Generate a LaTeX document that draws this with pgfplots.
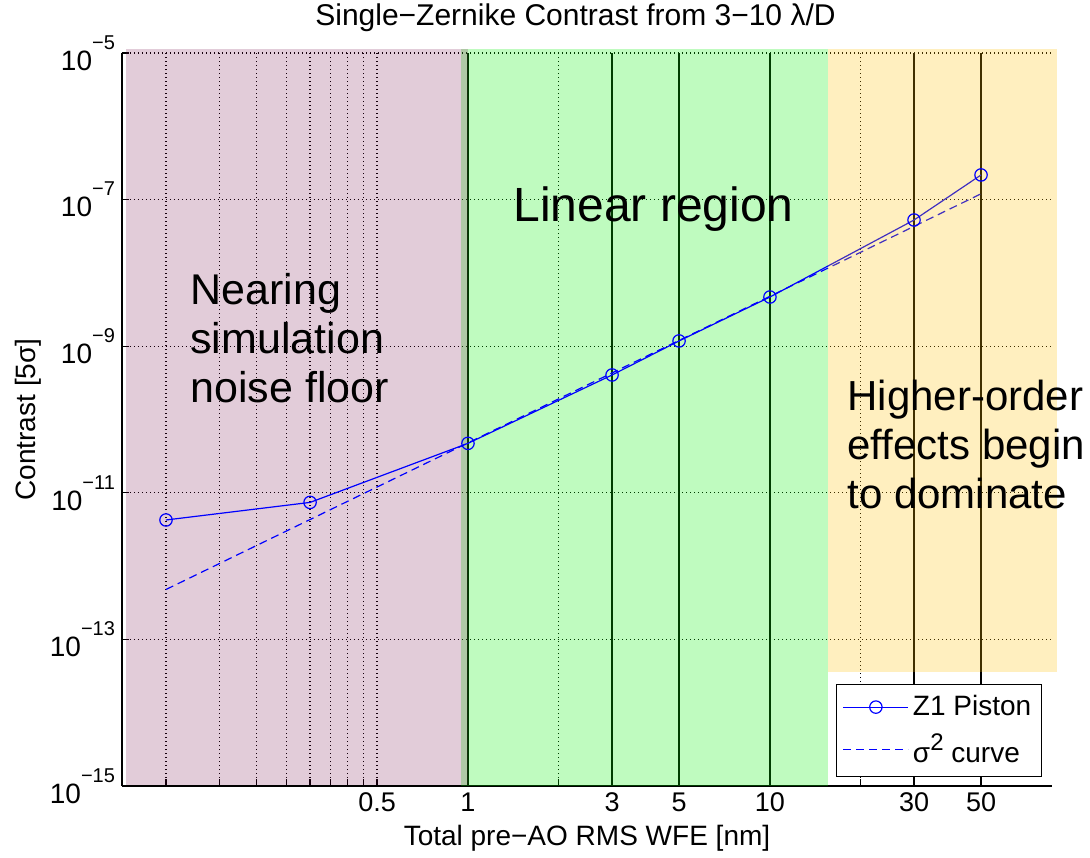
\documentclass[border=0pt]{standalone}
\usepackage{fontspec}
\setmainfont{Liberation Sans}
\usepackage{pgfplots}
\pgfplotsset{compat=1.18}
\definecolor{pinkreg}{RGB}{110,0,65}
\definecolor{greenreg}{RGB}{0,240,0}
\definecolor{orangereg}{RGB}{255,190,0}
\newcommand{\ex}[1]{\raisebox{10.5pt}{\fontsize{10}{10}\selectfont #1}}
\begin{document}
\begin{tikzpicture}
\useasboundingbox (-61pt,-35.5pt) rectangle (484pt,393pt);
\begin{axis}[
  at={(0,0)}, anchor=south west,
  scale only axis, width=465pt, height=366.5pt,
  xmode=log, ymode=log,
  xmin=0.0715, xmax=85.9, ymin=1e-15, ymax=1e-5,
  clip=false,
  axis x line=bottom, axis y line=left,
  axis line style={-, line width=0.6pt, black},
  tick align=inside, major tick length=3.5pt,
  tick style={black, line width=0.6pt},
  xtick={0.1,0.15,0.2,0.25,0.3,0.35,0.4,0.45,0.5,1,2,3,5,10,20,30,50},
  xticklabels={,,,,,,,,0.5,1,,3,5,10,,30,50},
  ytick={1e-15,1e-13,1e-11,1e-9,1e-7,1e-5},
  yticklabels={10\ex{−15},10\ex{−13},10\ex{−11},10\ex{−9},10\ex{−7},10\ex{−5}},
  minor xtick={}, minor ytick={},
  xticklabel style={font=\fontsize{13.5}{15}\selectfont},
  yticklabel style={font=\fontsize{14}{15}\selectfont},
  grid=major,
  major grid style={black, line width=0.6pt, dash pattern=on 0.6pt off 1.4pt},
  xlabel={Total pre−AO RMS WFE [nm]},
  xlabel style={at={(axis description cs:0.5,-0.0709)}, anchor=center, font=\fontsize{14}{16}\selectfont},
  ylabel={Contrast [5σ]},
  ylabel style={at={(axis description cs:-0.1005,0.5)}, anchor=center, font=\fontsize{14}{16}\selectfont},
  legend image code/.code={\draw[mark repeat=2,mark phase=2,#1] plot coordinates {(0pt,0pt) (16.25pt,0pt) (32.5pt,0pt)};},
  legend style={at={(axis description cs:0.989,0.0123)}, anchor=south east,
    draw=black, fill=white, line width=0.5pt, font=\fontsize{14}{16}\selectfont,
    inner xsep=3pt, inner ysep=3.5pt, row sep=3.5pt, legend cell align=left},
]
% solid vertical lines
\draw[black, line width=0.6pt] (axis cs:1,1e-15) -- (axis cs:1,1e-5);
\draw[black, line width=0.6pt] (axis cs:3,1e-15) -- (axis cs:3,1e-5);
\draw[black, line width=0.6pt] (axis cs:5,1e-15) -- (axis cs:5,1e-5);
\draw[black, line width=0.6pt] (axis cs:10,1e-15) -- (axis cs:10,1e-5);
\draw[black, line width=0.6pt] (axis cs:30,1e-15) -- (axis cs:30,1e-5);
\draw[black, line width=0.6pt] (axis cs:50,1e-15) -- (axis cs:50,1e-5);
% shaded regions
\fill[greenreg, fill opacity=0.25] (axis cs:0.95,1e-15) rectangle (axis cs:15.56,1.134e-5);
\fill[pinkreg, fill opacity=0.2] (axis cs:0.0735,1.02e-15) rectangle (axis cs:1,1.134e-5);
% data
\addplot[blue, line width=0.6pt, mark=o, mark size=3.1pt, mark options={solid}]
  coordinates {(0.1,4.26e-12) (0.3,7.4e-12) (1,4.73e-11) (3,4.05e-10) (5,1.18e-9) (10,4.69e-9) (30,5.27e-8) (50,2.17e-7)};
\addlegendentry{Z1 Piston}
\addplot[blue, line width=0.6pt, dash pattern=on 4pt off 2.5pt]
  coordinates {(0.1,4.8e-13) (0.3,4.32e-12) (1,4.8e-11) (3,4.32e-10) (5,1.2e-9) (10,4.8e-9) (30,4.32e-8) (50,1.2e-7)};
\addlegendentry{σ\raisebox{6pt}{\fontsize{12}{12}\selectfont 2} curve}
\fill[orangereg, fill opacity=0.25] (axis cs:15.56,3.59e-14) rectangle (axis cs:89.2,1.134e-5);
% annotations
\node[font=\fontsize{15}{17}\selectfont] at (axis description cs:0.4876,1.04775) {Single−Zernike Contrast from 3−10 λ/D};
\node[anchor=west, inner xsep=0pt, align=left, font=\fontsize{21.5}{24.5}\selectfont] at (axis description cs:0.0731,0.611) {Nearing\\simulation\\noise floor};
\node[anchor=west, inner xsep=0pt, font=\fontsize{24}{26}\selectfont] at (axis description cs:0.4204,0.787) {Linear region};
\node[anchor=west, inner xsep=0pt, align=left, font=\fontsize{21}{24.5}\selectfont] at (axis description cs:0.7796,0.466) {Higher-order\\effects begin\\to dominate};
\end{axis}
\end{tikzpicture}
\end{document}
